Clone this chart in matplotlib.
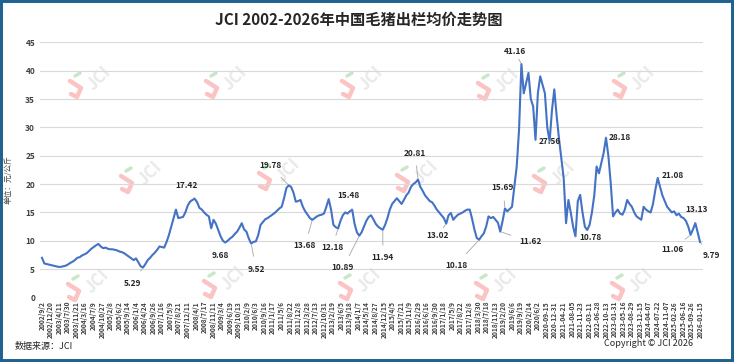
import matplotlib
matplotlib.use('Agg')
import matplotlib.pyplot as plt
import numpy as np
from matplotlib.lines import Line2D
from matplotlib.patches import Rectangle
from matplotlib.transforms import IdentityTransform

plt.rcParams['font.family'] = ['Noto Sans CJK SC', 'DejaVu Sans']

title = 'JCI 2002-2026年中国毛猪出栏均价走势图'
y_label = '单位：元/公斤'
source_text = '数据来源：JCI'
copyright_text = 'Copyright © JCI 2026'

# category-axis labels (evenly spaced, as in the source chart)
tick_labels = [
    '2002/9/2', '2002/12/20', '2003/4/11', '2003/7/30', '2003/11/21', '2004/3/16',
    '2004/7/9', '2004/10/27', '2005/2/8', '2005/6/2', '2005/9/14', '2006/1/4',
    '2006/4/24', '2006/9/26', '2007/1/16', '2007/5/9', '2007/8/21', '2007/12/11',
    '2008/4/1', '2008/7/17', '2008/11/11', '2009/3/4', '2009/6/19', '2009/10/13',
    '2010/2/9', '2010/6/3', '2010/9/16', '2011/1/17', '2011/5/6', '2011/8/22',
    '2011/12/8', '2012/3/28', '2012/7/13', '2012/10/31', '2013/2/19', '2013/6/5',
    '2013/9/18', '2014/1/7', '2014/5/14', '2014/8/27', '2014/12/15', '2015/4/5',
    '2015/7/21', '2015/11/9', '2016/2/29', '2016/6/16', '2016/9/30', '2017/1/18',
    '2017/5/9', '2017/8/22', '2017/12/8', '2018/3/30', '2018/7/18', '2018/11/13',
    '2019/2/20', '2019/6/6', '2019/9/19', '2020/2/14', '2020/6/2', '2020-09-15',
    '2020-12-31', '2021-04-21', '2021-08-05', '2021-11-23', '2022-03-11', '2022-06-28',
    '2022-10-13', '2023-01-31', '2023-05-16', '2023-08-29', '2023-12-15', '2024-04-07',
    '2024-07-22', '2024-11-07', '2025-02-26', '2025-06-16', '2025-09-26', '2026-01-15',
]

# monthly average price, 2002-09 .. 2026-01 (yuan/kg)
prices = [
    7.0, 6.0, 5.9, 5.8,                                              # 2002 (Sep-Dec)
    5.7, 5.6, 5.5, 5.4, 5.4, 5.5, 5.6, 5.8, 6.1, 6.3, 6.6, 7.0,      # 2003
    7.1, 7.4, 7.6, 7.8, 8.2, 8.6, 8.9, 9.2, 9.45, 9.0, 8.7, 8.8,     # 2004
    8.6, 8.5, 8.5, 8.4, 8.3, 8.1, 8.0, 7.8, 7.5, 7.2, 6.9, 6.6,      # 2005
    6.9, 6.2, 5.5, 5.29, 5.9, 6.6, 7.0, 7.5, 7.9, 8.4, 9.0, 8.9,     # 2006
    8.8, 9.8, 11.0, 12.5, 14.0, 15.5, 14.0, 14.1, 14.2, 15.0, 16.2, 16.9,   # 2007
    17.2, 17.42, 16.8, 15.8, 15.5, 15.0, 14.6, 14.3, 12.2, 13.7, 13.0, 11.9,  # 2008
    10.8, 10.0, 9.68, 10.0, 10.4, 10.7, 11.2, 11.6, 12.3, 13.1, 12.0, 11.6,  # 2009
    10.4, 9.52, 9.8, 9.9, 11.0, 12.8, 13.3, 13.8, 14.0, 14.3, 14.6, 14.9,    # 2010
    15.3, 15.7, 16.0, 17.5, 19.3, 19.78, 19.5, 18.5, 16.9, 17.0, 17.2, 16.0, # 2011
    15.2, 14.6, 14.0, 13.68, 14.0, 14.3, 14.5, 14.6, 14.8, 16.0, 17.35, 15.5, # 2012
    12.8, 12.4, 12.18, 13.5, 14.5, 15.0, 14.8, 15.2, 15.48, 13.0, 11.5, 10.89, # 2013
    11.5, 12.5, 13.5, 14.2, 14.5, 13.8, 13.0, 12.5, 12.2, 11.94, 12.8, 14.0,  # 2014
    15.5, 16.5, 17.0, 17.5, 17.0, 16.5, 17.2, 18.0, 18.5, 19.5, 20.0, 20.3,   # 2015
    20.81, 19.5, 18.8, 18.0, 17.5, 17.0, 16.8, 16.2, 15.5, 15.0, 14.5, 14.0,  # 2016
    13.02, 14.5, 14.9, 13.7, 14.2, 14.6, 14.8, 15.0, 15.3, 15.5, 15.5, 13.9,  # 2017
    12.0, 10.5, 10.18, 10.8, 11.3, 12.5, 14.3, 14.0, 14.2, 13.7, 13.2, 11.62, # 2018
    13.5, 15.69, 15.2, 15.6, 16.0, 19.6, 23.1, 29.6, 41.16, 36.0, 37.8, 39.6, # 2019
    35.0, 33.7, 27.8, 36.0, 39.0, 37.5, 36.0, 30.0, 27.56, 33.0, 36.7, 32.0,  # 2020
    28.0, 24.5, 21.0, 13.1, 17.2, 15.0, 12.5, 10.78, 17.0, 18.1, 15.0, 12.5,  # 2021
    11.9, 12.8, 15.0, 18.0, 23.1, 21.9, 23.7, 25.5, 28.18, 25.0, 20.2, 14.3,  # 2022
    15.0, 15.5, 14.8, 14.6, 15.5, 17.2, 16.5, 16.0, 15.0, 14.3, 14.0, 13.7,   # 2023
    16.0, 15.5, 15.2, 15.0, 16.5, 19.0, 21.08, 19.5, 18.0, 17.0, 16.0, 15.5,  # 2024
    15.0, 15.2, 14.5, 14.8, 14.2, 14.0, 13.5, 12.5, 11.06, 12.0, 13.13, 11.5, # 2025
    9.79,                                                             # 2026 (Jan)
]

annot_values = [5.29, 17.42, 9.68, 9.52, 19.78, 13.68, 12.18, 15.48, 10.89, 11.94,
                20.81, 13.02, 10.18, 11.62, 15.69, 41.16, 27.56, 28.18, 10.78,
                21.08, 11.06, 13.13, 9.79]
# label centres in output pixels (x from left, y from top)
annot_pos = [(133, 283), (187, 185), (220, 255), (256, 269), (270, 166), (305, 246),
             (332, 248), (348, 196), (343, 268), (383, 258), (415, 153), (438, 235),
             (456, 265), (530, 242), (503, 188), (515, 52), (550, 142), (620, 138),
             (590, 237), (673, 176), (672, 250), (697, 210), (711, 256)]

W, H = 734, 362
fig = plt.figure(figsize=(W / 100, H / 100), dpi=100)
fig.patch.set_facecolor('white')

ax = fig.add_axes([40 / W, 1 - 297.5 / H, 663 / W, (297.5 - 42.3) / H])
n_cat = len(tick_labels)
xs = np.linspace(0, n_cat - 1, len(prices))   # monthly points along the category axis

ax.plot(xs, prices, color='#4472C4', lw=1.5, zorder=3, solid_joinstyle='round')
ax.set_ylim(0, 45)
ax.set_yticks(range(0, 46, 5))
ax.set_xlim(-0.234, n_cat - 1 + 0.35)
ax.set_xticks(range(n_cat))
ax.set_xticklabels(tick_labels, rotation=90, fontsize=4.8, color='#404040', fontweight='bold')
ax.tick_params(axis='both', length=0)
ax.tick_params(axis='x', pad=2.5)
ax.tick_params(axis='y', pad=3.5, labelsize=6, labelcolor='#404040')
for lab in ax.get_yticklabels():
    lab.set_fontweight('bold')
ax.grid(axis='y', color='#d9d9d9', lw=0.8)
ax.grid(axis='x', visible=False)
for s in ax.spines.values():
    s.set_visible(False)

# watermarks: centre of the grey "JCI" text, output pixels from top-left
ident = IdentityTransform()
wm_centres = [(99, 78), (235, 78), (371, 78), (507, 80), (643, 78),
              (150, 173), (288, 170), (426, 172), (563, 173),
              (97, 281), (233, 278), (369, 280), (505, 280), (641, 280)]
for (tx, ty) in wm_centres:
    yb = H - ty
    rx, ry = tx - 22, yb - 11
    ax.add_line(Line2D([rx - 7, rx + 4, rx, rx - 6], [ry + 8, ry + 1, ry - 8, ry - 5],
                       transform=ident, color='#fbc4c4', lw=3.2, clip_on=False, zorder=0.6,
                       solid_capstyle='round', solid_joinstyle='round'))
    ax.add_line(Line2D([rx - 2, rx + 3], [ry + 13, ry + 16], transform=ident, color='#c9e7c9',
                       lw=2.5, clip_on=False, zorder=0.6, solid_capstyle='round'))
    ax.text(tx, yb, 'JCI', transform=ident, rotation=45, fontsize=12, fontweight='bold',
            color='#e9e9e9', ha='center', va='center', clip_on=False, zorder=0.6)

for v, (px, py) in zip(annot_values, annot_pos):
    i = prices.index(v)
    ax.annotate(f'{v:.2f}', xy=(xs[i], v), xytext=(px, H - py), textcoords='figure pixels',
                ha='center', va='center', fontsize=6, fontweight='bold', color='#262626',
                arrowprops=dict(arrowstyle='-', color='#a6a6a6', lw=0.6, shrinkA=4, shrinkB=1),
                zorder=4)

fig.text(359 / W, 1 - 20 / H, title, ha='center', va='center', fontsize=11, fontweight='bold',
         color='#262626')
fig.text(8 / W, 1 - 180 / H, y_label, rotation=90, ha='center', va='center', fontsize=5.5,
         color='#404040')
fig.text(15 / W, 1 - 346 / H, source_text, ha='left', va='center', fontsize=6.5, color='#262626')
fig.text(693 / W, 1 - 344 / H, copyright_text, ha='right', va='center', fontsize=6.5,
         color='#262626')

fig.patches.append(Rectangle((0, 0), 1, 1, transform=fig.transFigure, fill=False,
                             edgecolor='#1f6391', lw=4.3, zorder=10))

fig.savefig('out.png', dpi=100)
